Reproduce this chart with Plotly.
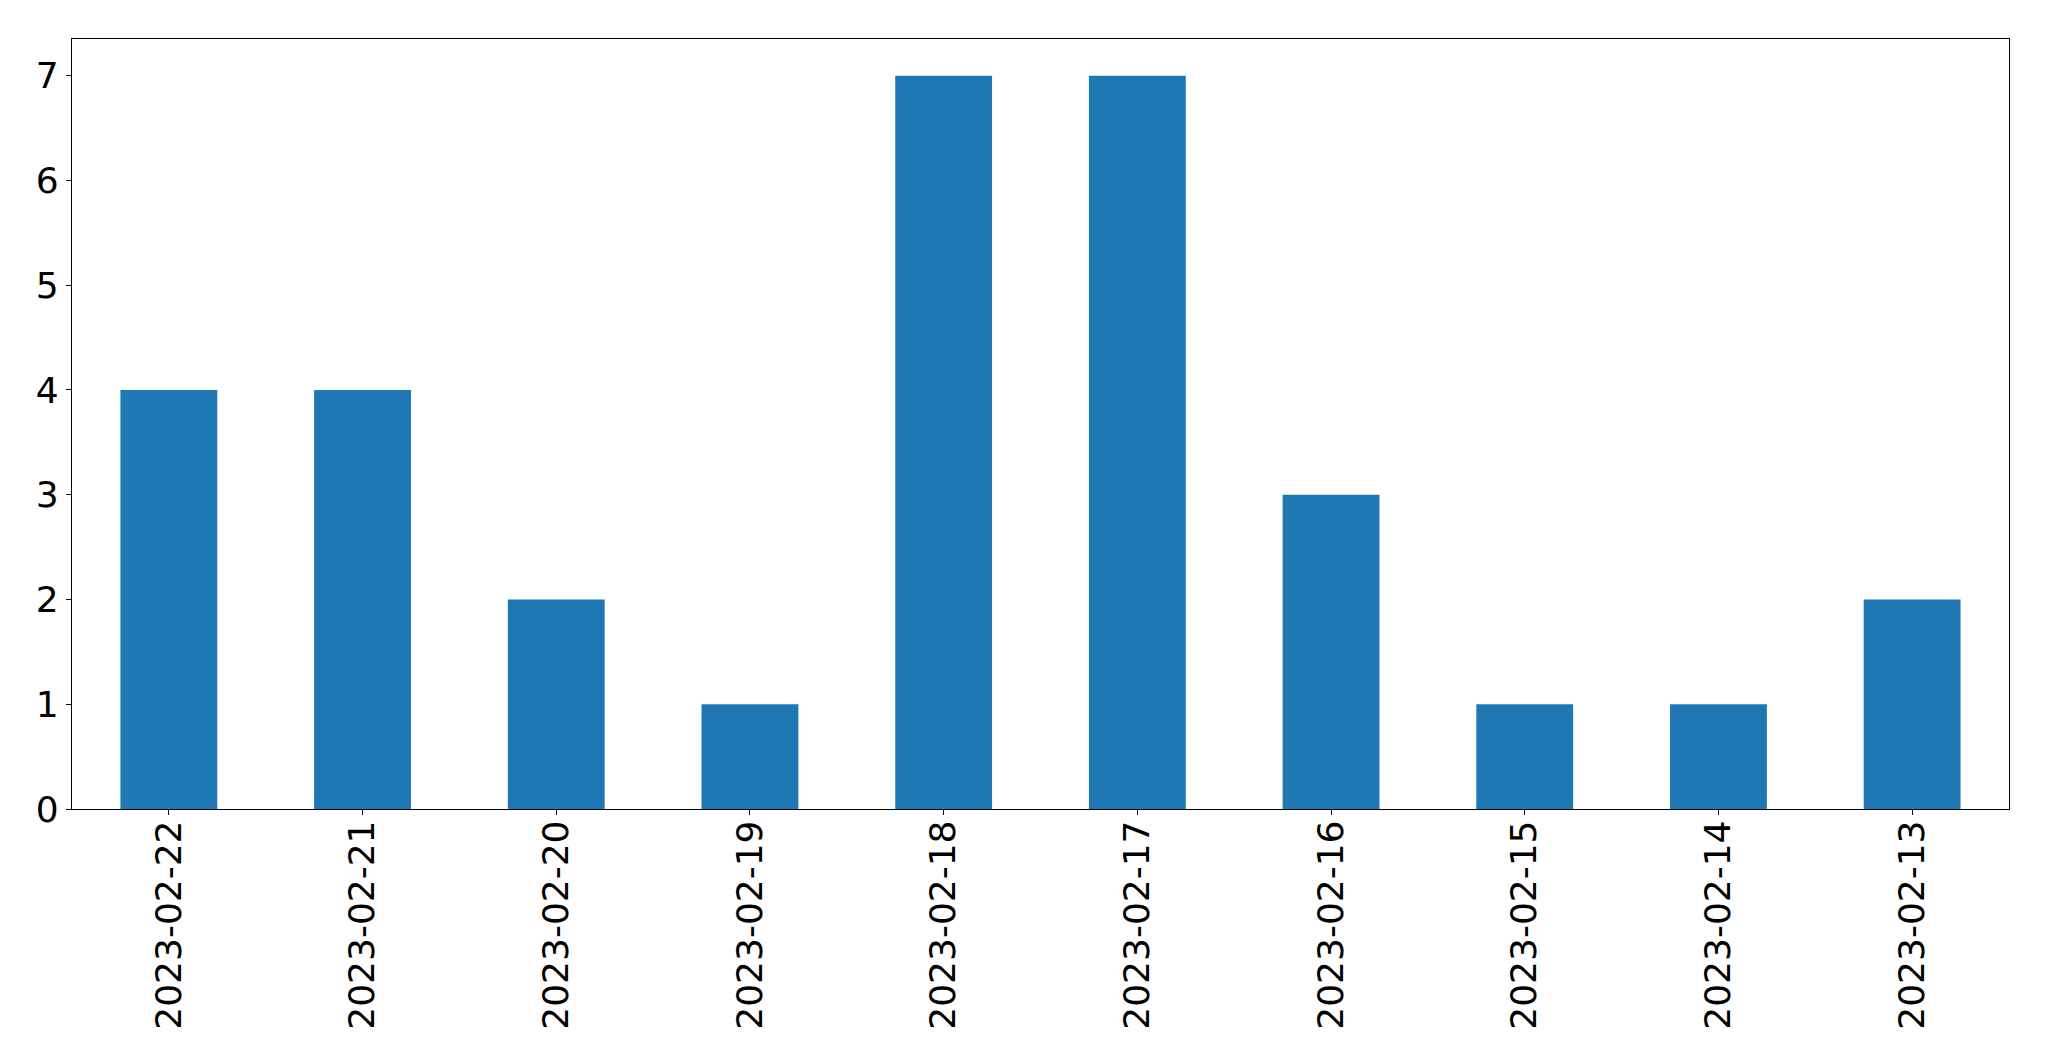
import plotly.graph_objects as go

dates = ["2023-02-22", "2023-02-21", "2023-02-20", "2023-02-19", "2023-02-18",
         "2023-02-17", "2023-02-16", "2023-02-15", "2023-02-14", "2023-02-13"]
counts = [4, 4, 2, 1, 7, 7, 3, 1, 1, 2]
yticks = [0, 1, 2, 3, 4, 5, 6, 7]

fig = go.Figure(go.Bar(x=dates, y=counts, marker=dict(color="#1f77b4", line=dict(width=0)), width=0.5))

axis_common = dict(showline=True, linecolor="black", linewidth=1.2, mirror=True,
                   ticks="outside", ticklen=5, tickwidth=1, tickcolor="black",
                   showgrid=False, zeroline=False,
                   tickfont=dict(family="DejaVu Sans", size=36, color="black"))

fig.update_layout(
    width=2041, height=1053,
    margin=dict(l=64, r=40, t=31, b=252),
    plot_bgcolor="white", paper_bgcolor="white",
    showlegend=False,
    xaxis=dict(type="category", range=[-0.5, 9.5], tickangle=-90, ticklabelstandoff=-9, **axis_common),
    yaxis=dict(range=[0, 7.35], tickvals=yticks, ticklabelstandoff=0, **axis_common),
)

fig.write_html("out.html")
